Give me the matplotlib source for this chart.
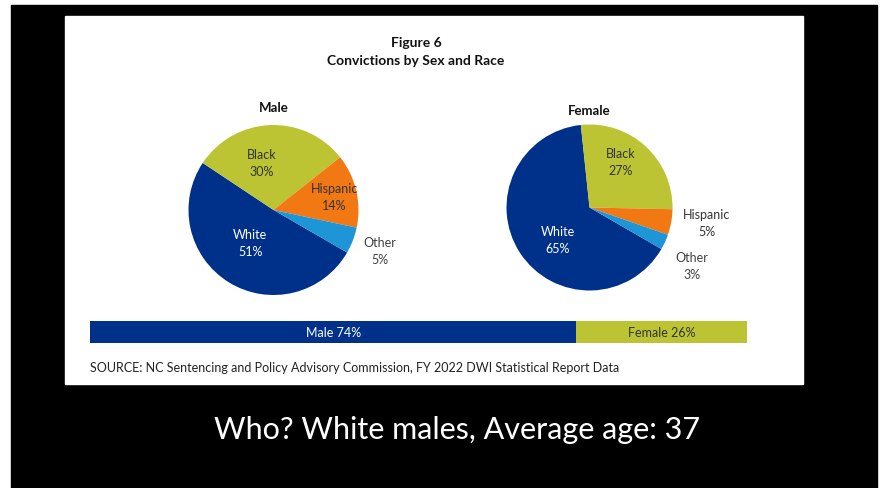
import matplotlib.pyplot as plt
import numpy as np

# data
races = ["White", "Black", "Hispanic", "Other"]
male_pct = [51, 30, 14, 5]
female_pct = [65, 27, 5, 3]
sex_labels = ["Male", "Female"]
sex_pct = [74, 26]
title_lines = ["Figure 6", "Convictions by Sex and Race"]
source_text = "SOURCE: NC Sentencing and Policy Advisory Commission, FY 2022 DWI Statistical Report Data"
caption = "Who? White males, Average age: 37"

race_colors = ["#00318A", "#BCC434", "#F27813", "#1D95D6"]
label_colors = ["white", "#333333", "#333333", "#404040"]
FONT = ["Lato", "DejaVu Sans"]

W, H = 884, 489
fig = plt.figure(figsize=(W / 100, H / 100), dpi=100)
fig.patch.set_facecolor("white")


def box(x0, y0, x1, y1):
    # pixel box (top-left origin) -> figure fraction rect
    return [x0 / W, 1 - y1 / H, (x1 - x0) / W, (y1 - y0) / H]


def fx(x):
    return x / W


def fy(y):
    return 1 - y / H


def panel(x0, y0, x1, y1, color, z):
    b = box(x0, y0, x1, y1)
    fig.patches.append(plt.Rectangle((b[0], b[1]), b[2], b[3], transform=fig.transFigure,
                                     color=color, zorder=z))


# black slide background and white figure panel
panel(11, 6, 877, 489, "black", 0)
panel(65, 17, 803, 385, "white", 1)

fig.text(fx(416), fy(43), title_lines[0], ha="center", va="center",
         fontsize=10, fontweight="bold", family=FONT, color="#111111")
fig.text(fx(416), fy(61), title_lines[1], ha="center", va="center",
         fontsize=10, fontweight="bold", family=FONT, color="#111111")

# label placement per wedge: (angle offset from wedge middle, distance)
male_lbl = [(-4, 0.47), (12, 0.58), (-1, 0.73), (0, 1.34)]
female_lbl = [(12, 0.54), (8, 0.67), (3, 1.42), (-5, 1.42)]


def draw_pie(cx, cy, r, vals, name, lbl, title_y):
    ax = fig.add_axes(box(cx - r, cy - r, cx + r, cy + r))
    ax.set_zorder(2)
    wedges, _ = ax.pie(vals, colors=race_colors, startangle=-30, counterclock=False,
                       radius=1, wedgeprops=dict(linewidth=0))
    ax.set_xlim(-1, 1)
    ax.set_ylim(-1, 1)
    ax.set_aspect("equal")
    ax.axis("off")
    for w, race, v, (da, d), c in zip(wedges, races, vals, lbl, label_colors):
        mid = np.deg2rad((w.theta1 + w.theta2) / 2 + da)
        ax.text(d * np.cos(mid), d * np.sin(mid), f"{race}\n{v}%", ha="center",
                va="center", fontsize=9, family=FONT, color=c, linespacing=1.5)
    fig.text(fx(cx), fy(title_y), name, ha="center", va="center", fontsize=9.5,
             fontweight="bold", family=FONT, color="#111111")


draw_pie(273.5, 211, 85, male_pct, "Male", male_lbl, 108)
draw_pie(589.5, 208.5, 83, female_pct, "Female", female_lbl, 111)

# stacked sex bar
bax = fig.add_axes(box(90, 322, 747, 344))
bax.set_zorder(2)
left = 0
for lab, v, col, tc in zip(sex_labels, sex_pct, [race_colors[0], race_colors[1]],
                           ["white", "#333333"]):
    bax.barh(0, v, left=left, height=1, color=col, linewidth=0)
    bax.text(left + v / 2, 0, f"{lab} {v}%", ha="center", va="center",
             fontsize=9, family=FONT, color=tc)
    left += v
bax.set_xlim(0, sum(sex_pct))
bax.set_ylim(-0.5, 0.5)
bax.axis("off")

fig.text(fx(90), fy(368), source_text, ha="left", va="center", fontsize=9,
         family=FONT, color="#222222")

fig.text(fx(457), fy(430), caption, ha="center", va="center", fontsize=22,
         family=FONT, color="white")

fig.savefig("out.png", dpi=100)
